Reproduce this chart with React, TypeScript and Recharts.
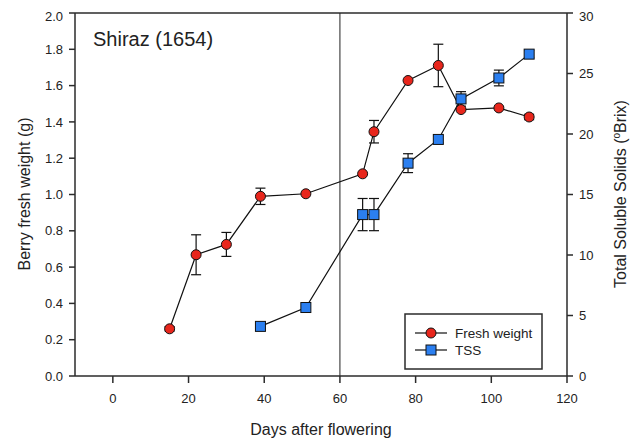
import { ComposedChart, Line, XAxis, YAxis, ErrorBar, ReferenceLine, Customized } from "recharts";

const days = [15, 22, 30, 39, 51, 66, 69, 78, 86, 92, 102, 110];
const freshWeight = [0.26, 0.668, 0.725, 0.99, 1.004, 1.114, 1.346, 1.628, 1.711, 1.468, 1.477, 1.427];
const freshWeightErr = [0.012, 0.11, 0.066, 0.045, 0, 0, 0.062, 0, 0.117, 0, 0, 0.015];

const tssDays = [39, 51, 66, 69, 78, 86, 92, 102, 110];
const tss = [4.1, 5.66, 13.34, 13.34, 17.59, 19.55, 22.9, 24.63, 26.6];
const tssErr = [0, 0, 1.33, 1.33, 0.78, 0.3, 0.6, 0.65, 0.3];

const xTicks = [0, 20, 40, 60, 80, 100, 120];
const leftTicks = [0, 0.2, 0.4, 0.6, 0.8, 1.0, 1.2, 1.4, 1.6, 1.8, 2.0];
const rightTicks = [0, 5, 10, 15, 20, 25, 30];

const legendItems = ["Fresh weight", "TSS"];

const RED = "#e8261c";
const BLUE = "#2b7ff0";
const INK = "#2b2b2b";
const FONT = "'Liberation Sans', Arial, sans-serif";

const fwData = days.map((d, i) => ({ day: d, fw: freshWeight[i], fwErr: freshWeightErr[i] }));
const tssData = tssDays.map((d, i) => ({ day: d, tss: tss[i], tssErr: tssErr[i] }));

function SquareDot(props: any) {
  const { cx, cy, index } = props;
  if (cx == null || cy == null) return null;
  return <rect key={`sq-${index}`} x={cx - 5} y={cy - 5} width={10} height={10} fill={BLUE} stroke="#111" strokeWidth={1} />;
}

function Texts() {
  return (
    <g fontFamily={FONT} fill="#222">
      <text x={85} y={38} fontSize={20}>Shiraz (1654)</text>
      <text x={22} y={186} fontSize={16} textAnchor="middle" transform="rotate(-90 22 186)">
        Berry fresh weight (g)
      </text>
      <text x={618} y={186} fontSize={16} textAnchor="middle" transform="rotate(-90 618 186)">
        <tspan>Total Soluble Solids (</tspan>
        <tspan fontSize={10} dy={-6}>o</tspan>
        <tspan dy={6}>Brix)</tspan>
      </text>
      <text x={313} y={427} fontSize={16} textAnchor="middle">Days after flowering</text>
    </g>
  );
}

// legend drawn in svg so it does not take space from the plot
function LegendBox() {
  const x0 = 397;
  const y0 = 306;
  return (
    <g fontFamily={FONT}>
      <rect x={x0} y={y0} width={137} height={55} fill="#fff" stroke={INK} strokeWidth={1.5} />
      {legendItems.map((label, i) => {
        const cy = y0 + 19 + i * 17;
        return (
          <g key={label}>
            <line x1={x0 + 10} y1={cy} x2={x0 + 42} y2={cy} stroke="#111" strokeWidth={1.2} />
            {i === 0 ? (
              <circle cx={x0 + 26} cy={cy} r={5} fill={RED} stroke="#111" strokeWidth={1} />
            ) : (
              <rect x={x0 + 21} y={cy - 5} width={10} height={10} fill={BLUE} stroke="#111" strokeWidth={1} />
            )}
            <text x={x0 + 50} y={cy + 5} fontSize={13.5} fill="#222">{label}</text>
          </g>
        );
      })}
    </g>
  );
}

export default function App() {
  return (
    <ComposedChart width={630} height={431} margin={{ top: 5, right: 21, left: 7, bottom: 33 }}>
      <XAxis
        type="number"
        dataKey="day"
        domain={[-10, 120]}
        ticks={xTicks}
        allowDataOverflow
        height={30}
        stroke={INK}
        strokeWidth={1.5}
        tickSize={7}
        tickMargin={11}
        tick={{ fill: "#222", fontSize: 13, fontFamily: FONT }}
      />
      <YAxis
        yAxisId="left"
        domain={[0, 2]}
        ticks={leftTicks}
        width={60}
        stroke={INK}
        strokeWidth={1.5}
        tickSize={6}
        tickMargin={6}
        tickFormatter={(v: number) => v.toFixed(1)}
        tick={{ fill: "#222", fontSize: 13, fontFamily: FONT }}
      />
      <YAxis
        yAxisId="right"
        orientation="right"
        domain={[0, 30]}
        ticks={rightTicks}
        width={50}
        stroke={INK}
        strokeWidth={1.5}
        tickSize={6}
        tickMargin={6}
        tick={{ fill: "#222", fontSize: 13, fontFamily: FONT }}
      />
      <ReferenceLine yAxisId="left" y={2} stroke={INK} strokeWidth={1.5} />
      <ReferenceLine yAxisId="left" x={60} stroke="#222" strokeWidth={1} />
      <Line
        yAxisId="left"
        data={fwData}
        dataKey="fw"
        stroke="#111"
        strokeWidth={1.2}
        isAnimationActive={false}
        dot={{ r: 5, fill: RED, stroke: "#111", strokeWidth: 1 }}
        activeDot={false}
      >
        <ErrorBar dataKey="fwErr" direction="y" width={5} stroke="#111" strokeWidth={1.2} />
      </Line>
      <Line
        yAxisId="right"
        data={tssData}
        dataKey="tss"
        stroke="#111"
        strokeWidth={1.2}
        isAnimationActive={false}
        dot={<SquareDot />}
        activeDot={false}
      >
        <ErrorBar dataKey="tssErr" direction="y" width={5} stroke="#111" strokeWidth={1.2} />
      </Line>
      <Customized component={LegendBox} />
      <Customized component={Texts} />
    </ComposedChart>
  );
}
